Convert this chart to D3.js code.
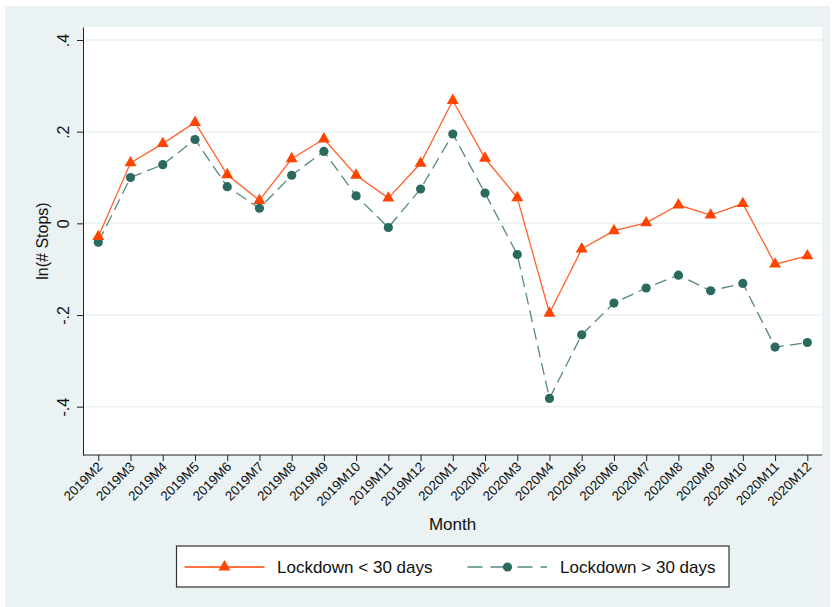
<!DOCTYPE html>
<html>
<head>
<meta charset="utf-8">
<script src="https://cdn.jsdelivr.net/npm/d3@7"></script>
<style>
  body { margin: 0; background: #fff; }
  svg { display: block; font-family: "Liberation Sans", Arial, sans-serif; }
</style>
</head>
<body>
<div id="chart"></div>
<script>
// Month categories along the x axis
const months = [
  "2019M2", "2019M3", "2019M4", "2019M5", "2019M6", "2019M7", "2019M8",
  "2019M9", "2019M10", "2019M11", "2019M12", "2020M1", "2020M2", "2020M3",
  "2020M4", "2020M5", "2020M6", "2020M7", "2020M8", "2020M9", "2020M10",
  "2020M11", "2020M12"
];

// ln(# Stops)
const shortLockdown = [
  -0.029, 0.132, 0.174, 0.220, 0.106, 0.050, 0.141, 0.184, 0.105, 0.055,
  0.131, 0.268, 0.142, 0.056, -0.196, -0.056, -0.016, 0.001, 0.040, 0.018,
  0.043, -0.089, -0.071
];
const longLockdown = [
  -0.041, 0.100, 0.128, 0.183, 0.080, 0.033, 0.105, 0.157, 0.060, -0.009,
  0.075, 0.195, 0.066, -0.068, -0.382, -0.243, -0.174, -0.141, -0.113, -0.147,
  -0.131, -0.270, -0.260
];

const yTicks = [-0.4, -0.2, 0, 0.2, 0.4];
const yTickLabels = ["-.4", "-.2", "0", ".2", ".4"];

const seriesNames = ["Lockdown < 30 days", "Lockdown > 30 days"];

const width = 833, height = 607;
const plot = { left: 83, right: 822, top: 27, bottom: 455 };

const orange = "#ff4500";
const green = "#2b6a5e";

const svg = d3.select("#chart")
  .append("svg")
  .attr("width", width)
  .attr("height", height);

// graph region
svg.append("rect")
  .attr("x", 5).attr("y", 6)
  .attr("width", 825).attr("height", height - 6)
  .attr("fill", "#eaf2f3");

// plot region
svg.append("rect")
  .attr("x", plot.left).attr("y", plot.top)
  .attr("width", plot.right - plot.left)
  .attr("height", plot.bottom - plot.top)
  .attr("fill", "#fff");

const x = d3.scalePoint()
  .domain(months)
  .range([98.3, 807.3]);

const y = d3.scaleLinear()
  .domain([-0.5054, 0.4284])
  .range([plot.bottom, plot.top]);

// grid lines
svg.append("g")
  .selectAll("line")
  .data(yTicks)
  .enter()
  .append("line")
  .attr("x1", plot.left).attr("x2", plot.right)
  .attr("y1", d => y(d)).attr("y2", d => y(d))
  .attr("stroke", "#eaf2f3")
  .attr("stroke-width", 1.5);

// y axis
const yAxis = svg.append("g")
  .attr("transform", `translate(${plot.left},0)`)
  .call(d3.axisLeft(y)
    .tickValues(yTicks)
    .tickFormat((d, i) => yTickLabels[i])
    .tickSize(6)
    .tickSizeOuter(0));
yAxis.select(".domain").attr("stroke", "#222");
yAxis.selectAll(".tick line").attr("stroke", "#222");
yAxis.selectAll(".tick text")
  .attr("font-size", 16)
  .attr("fill", "#111")
  .attr("text-anchor", "middle")
  .attr("transform", "rotate(-90)")
  .attr("x", 0)
  .attr("dy", 0)
  .attr("y", -14);

// x axis
const xAxis = svg.append("g")
  .attr("transform", `translate(0,${plot.bottom})`)
  .call(d3.axisBottom(x).tickSize(6).tickSizeOuter(0));
xAxis.select(".domain")
  .attr("d", `M${plot.left},0H${plot.right}`)
  .attr("stroke", "#222");
xAxis.selectAll(".tick line").attr("stroke", "#222");
xAxis.selectAll(".tick text")
  .attr("font-size", 13.3)
  .attr("fill", "#111")
  .attr("text-anchor", "end")
  .attr("dy", 0)
  .attr("y", 0)
  .attr("transform", "translate(4.5,12.5) rotate(-45)");

// axis titles
svg.append("text")
  .attr("transform", `translate(48,${(plot.top + plot.bottom) / 2}) rotate(-90)`)
  .attr("text-anchor", "middle")
  .attr("font-size", 16)
  .attr("fill", "#111")
  .text("ln(# Stops)");

svg.append("text")
  .attr("x", (plot.left + plot.right) / 2)
  .attr("y", 530)
  .attr("text-anchor", "middle")
  .attr("font-size", 17)
  .attr("fill", "#111")
  .text("Month");

const line = d3.line()
  .x((d, i) => x(months[i]))
  .y(d => y(d));

const triangle = d3.symbol().type(d3.symbolTriangle).size(62);

// series: long lockdown (dashed, circles)
svg.append("path")
  .datum(longLockdown)
  .attr("d", line)
  .attr("fill", "none")
  .attr("stroke", green)
  .attr("stroke-opacity", 0.8)
  .attr("stroke-width", 1.3)
  .attr("stroke-dasharray", "12,6");

svg.append("g")
  .selectAll("circle")
  .data(longLockdown)
  .enter()
  .append("circle")
  .attr("cx", (d, i) => x(months[i]))
  .attr("cy", d => y(d))
  .attr("r", 4.6)
  .attr("fill", green);

// series: short lockdown (solid, triangles)
svg.append("path")
  .datum(shortLockdown)
  .attr("d", line)
  .attr("fill", "none")
  .attr("stroke", orange)
  .attr("stroke-opacity", 0.85)
  .attr("stroke-width", 1.3);

svg.append("g")
  .selectAll("path")
  .data(shortLockdown)
  .enter()
  .append("path")
  .attr("d", triangle)
  .attr("transform", (d, i) => `translate(${x(months[i])},${y(d)})`)
  .attr("fill", orange);

// legend
const legend = svg.append("g");
legend.append("rect")
  .attr("x", 176.5).attr("y", 546)
  .attr("width", 552.5).attr("height", 41)
  .attr("fill", "#fff")
  .attr("stroke", "#333")
  .attr("stroke-width", 1.2);

const ly = 567;
legend.append("line")
  .attr("x1", 184.5).attr("x2", 264.5)
  .attr("y1", ly).attr("y2", ly)
  .attr("stroke", orange).attr("stroke-width", 1.3);
legend.append("path")
  .attr("d", triangle)
  .attr("transform", `translate(224.5,${ly})`)
  .attr("fill", orange);
legend.append("text")
  .attr("x", 277).attr("y", ly + 6)
  .attr("font-size", 17)
  .attr("fill", "#111")
  .text(seriesNames[0]);

legend.append("line")
  .attr("x1", 467.5).attr("x2", 547)
  .attr("y1", ly).attr("y2", ly)
  .attr("stroke", green).attr("stroke-opacity", 0.8)
  .attr("stroke-width", 1.3)
  .attr("stroke-dasharray", "15,8,20,7");
legend.append("circle")
  .attr("cx", 507.5).attr("cy", ly)
  .attr("r", 4.6)
  .attr("fill", green);
legend.append("text")
  .attr("x", 560).attr("y", ly + 6)
  .attr("font-size", 17)
  .attr("fill", "#111")
  .text(seriesNames[1]);
</script>
</body>
</html>
